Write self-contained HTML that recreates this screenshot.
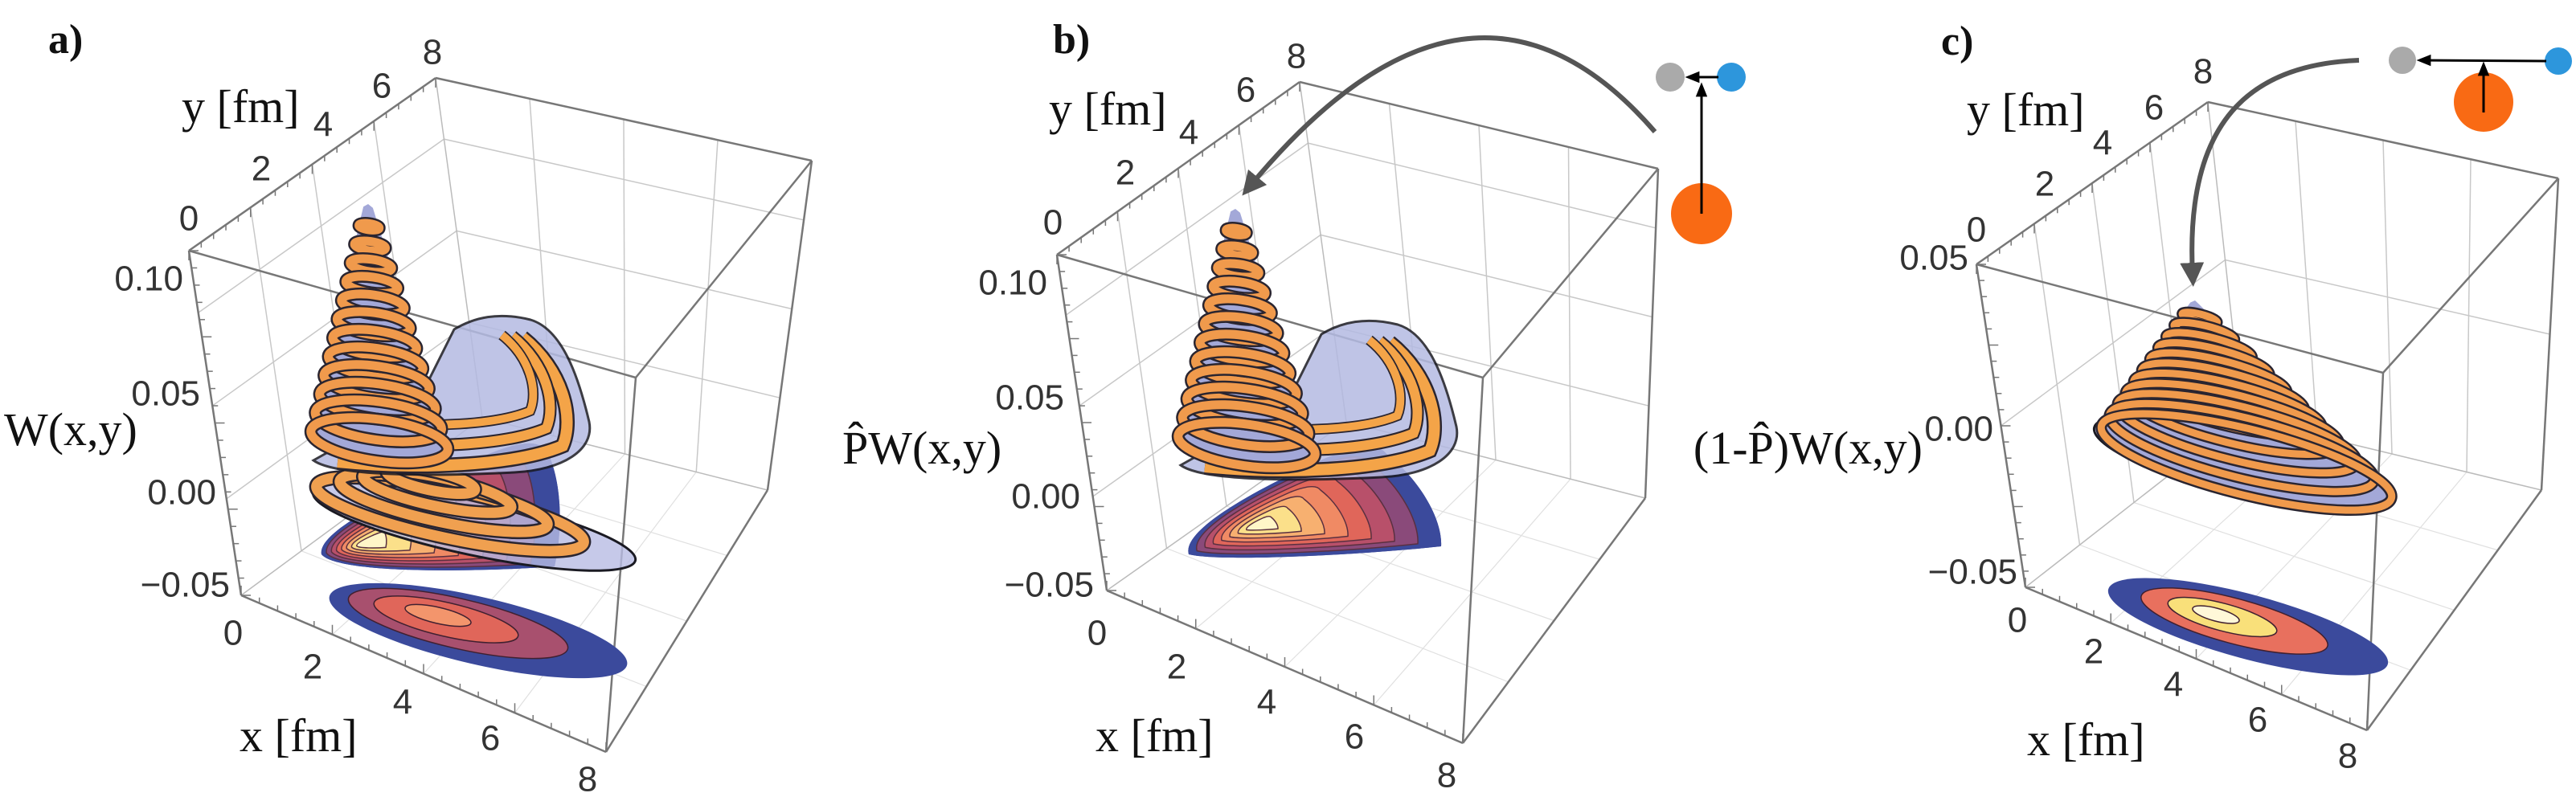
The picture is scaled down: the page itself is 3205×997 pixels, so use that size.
<!DOCTYPE html>
<html><head><meta charset="utf-8"><style>
html,body{margin:0;padding:0;background:#fff;}
svg{display:block;}
.tk{font-family:"Liberation Sans",sans-serif;font-size:44px;fill:#333;dominant-baseline:central;}
.lb{font-family:"Liberation Serif",serif;font-size:58px;fill:#111;}
.pl{font-family:"Liberation Serif",serif;font-size:52px;font-weight:bold;fill:#111;}
</style></head><body>
<svg id="s" width="3205" height="997" viewBox="0 0 3205 997" xmlns="http://www.w3.org/2000/svg">
<defs>
<marker id="ga" viewBox="0 0 10 10" refX="5" refY="5" markerWidth="5" markerHeight="5" orient="auto"><path d="M0,0 L10,5 L0,10 z" fill="#555"/></marker>
<marker id="ka" viewBox="0 0 10 10" refX="8" refY="5" markerWidth="6" markerHeight="6" orient="auto"><path d="M0,1 L10,5 L0,9 z" fill="#000"/></marker>
</defs>
<g id="boxes"></g>
<g id="surf"></g>
<g id="labels">
<text class="pl" x="60" y="66">a)</text>
<text class="pl" x="1310" y="66">b)</text>
<text class="pl" x="2415" y="68">c)</text>
<text class="tk" x="538" y="65" text-anchor="middle">8</text>
<text class="tk" x="475" y="107" text-anchor="middle">6</text>
<text class="tk" x="402" y="155" text-anchor="middle">4</text>
<text class="tk" x="325" y="210" text-anchor="middle">2</text>
<text class="tk" x="235" y="272" text-anchor="middle">0</text>
<text class="tk" x="228" y="347" text-anchor="end">0.10</text>
<text class="tk" x="249" y="490" text-anchor="end">0.05</text>
<text class="tk" x="269" y="613" text-anchor="end">0.00</text>
<text class="tk" x="286" y="728" text-anchor="end">−0.05</text>
<text class="tk" x="290" y="788" text-anchor="middle">0</text>
<text class="tk" x="389" y="830" text-anchor="middle">2</text>
<text class="tk" x="501" y="874" text-anchor="middle">4</text>
<text class="tk" x="610" y="919" text-anchor="middle">6</text>
<text class="tk" x="731" y="970" text-anchor="middle">8</text>
<text class="lb" x="226" y="152">y [fm]</text>
<text class="lb" x="298" y="935">x [fm]</text>
<text class="lb" x="5" y="554">W(x,y)</text>
<g transform="translate(1075,5)">
<text class="tk" x="538" y="65" text-anchor="middle">8</text>
<text class="tk" x="475" y="107" text-anchor="middle">6</text>
<text class="tk" x="404" y="160" text-anchor="middle">4</text>
<text class="tk" x="325" y="210" text-anchor="middle">2</text>
<text class="tk" x="235" y="272" text-anchor="middle">0</text>
<text class="tk" x="228" y="347" text-anchor="end">0.10</text>
<text class="tk" x="249" y="490" text-anchor="end">0.05</text>
<text class="tk" x="269" y="613" text-anchor="end">0.00</text>
<text class="tk" x="286" y="723" text-anchor="end">−0.05</text>
<text class="tk" x="290" y="783" text-anchor="middle">0</text>
<text class="tk" x="389" y="825" text-anchor="middle">2</text>
<text class="tk" x="501" y="869" text-anchor="middle">4</text>
<text class="tk" x="610" y="912" text-anchor="middle">6</text>
<text class="tk" x="725" y="960" text-anchor="middle">8</text>
<text class="lb" x="230" y="150">y [fm]</text>
<text class="lb" x="288" y="930">x [fm]</text>
</g>
<text class="lb" x="1048" y="577">P̂W(x,y)</text>
<text class="tk" x="2741" y="89" text-anchor="middle">8</text>
<text class="tk" x="2680" y="134" text-anchor="middle">6</text>
<text class="tk" x="2616" y="178" text-anchor="middle">4</text>
<text class="tk" x="2544" y="229" text-anchor="middle">2</text>
<text class="tk" x="2459" y="286" text-anchor="middle">0</text>
<text class="tk" x="2449" y="321" text-anchor="end">0.05</text>
<text class="tk" x="2480" y="534" text-anchor="end">0.00</text>
<text class="tk" x="2510" y="712" text-anchor="end">−0.05</text>
<text class="tk" x="2510" y="772" text-anchor="middle">0</text>
<text class="tk" x="2605" y="811" text-anchor="middle">2</text>
<text class="tk" x="2704" y="852" text-anchor="middle">4</text>
<text class="tk" x="2809" y="896" text-anchor="middle">6</text>
<text class="tk" x="2921" y="941" text-anchor="middle">8</text>
<text class="lb" x="2447" y="156">y [fm]</text>
<text class="lb" x="2522" y="940">x [fm]</text>
<text class="lb" x="2392" y="577" text-anchor="end">(1-P̂)W(x,y)</text>
</g>
<g id="diag">
<path d="M2059,164 Q1830,-100 1555,232" fill="none" stroke="#555" stroke-width="6" marker-end="url(#ga)"/>
<circle cx="2078" cy="96" r="18" fill="#aaa"/>
<circle cx="2154" cy="96" r="18" fill="#2d96dc"/>
<circle cx="2117" cy="266" r="38" fill="#f96a14"/>
<line x1="2117" y1="266" x2="2117" y2="106" stroke="#000" stroke-width="3" marker-end="url(#ka)"/>
<line x1="2138" y1="96" x2="2100" y2="96" stroke="#000" stroke-width="3" marker-end="url(#ka)"/>
<path d="M2935,75 C2800,80 2718,150 2728,342" fill="none" stroke="#555" stroke-width="6" marker-end="url(#ga)"/>
<circle cx="2989" cy="75" r="17" fill="#aaa"/>
<circle cx="3183" cy="76" r="17" fill="#2d96dc"/>
<circle cx="3090" cy="127" r="37" fill="#f96a14"/>
<line x1="3168" y1="76" x2="3010" y2="75" stroke="#000" stroke-width="3" marker-end="url(#ka)"/>
<line x1="3090" y1="140" x2="3090" y2="80" stroke="#000" stroke-width="3" marker-end="url(#ka)"/>
</g>
</svg>
<script>
const NS="http://www.w3.org/2000/svg";
function el(p,t,a){const e=document.createElementNS(NS,t);for(const k in a)e.setAttribute(k,a[k]);p.appendChild(e);return e;}
const boxes=document.getElementById('boxes'),surf=document.getElementById('surf');
function L(p,a,b,c,w){el(p,'line',{x1:a[0],y1:a[1],x2:b[0],y2:b[1],stroke:c,'stroke-width':w});}
function lerp(a,b,t){return [a[0]+(b[0]-a[0])*t,a[1]+(b[1]-a[1])*t];}
function box(P,zl){const g=el(boxes,'g',{});
 const {A,B,C,D,E,F,G,H}=P;
 for(let i=1;i<4;i++){const t=i/4;L(g,lerp(B,A,t),lerp(E,H,t),'#c8c8c8',1.5);L(g,lerp(A,C,t),lerp(H,G,t),'#c8c8c8',1.5);
  L(g,lerp(E,H,t),lerp(F,G,t),'#e0e0e0',1.2);L(g,lerp(H,G,t),lerp(E,F,t),'#e0e0e0',1.2);}
 zl.forEach(t=>{L(g,lerp(B,E,t),lerp(A,H,t),'#c8c8c8',1.5);L(g,lerp(A,H,t),lerp(C,G,t),'#c8c8c8',1.5);});
 L(g,A,H,'#bbb',1.5);L(g,H,E,'#bbb',1.5);L(g,H,G,'#bbb',1.5);
 [[A,B],[A,C],[B,D],[C,D],[B,E],[D,F],[C,G],[E,F],[F,G]].forEach(s=>L(g,s[0],s[1],'#777',2.5));
 for(let i=0;i<=20;i++){const t=i/20,l=(i%5==0)?12:7;
  let p=lerp(B,A,t);L(g,p,[p[0],p[1]+l],'#777',1.5);
  p=lerp(E,F,t);L(g,p,[p[0],p[1]-l],'#777',1.5);
  p=lerp(B,E,t);L(g,p,[p[0]+l,p[1]],'#777',1.5);}
}
box({A:[542,97],B:[235,312],C:[1010,200],D:[791,470],E:[300,741],F:[754,936],G:[955,610],H:[600,520]},[0.18,0.45,0.72]);
box({A:[1617,102],B:[1315,317],C:[2063,210],D:[1845,470],E:[1377,735],F:[1820,925],G:[2047,620],H:[1675,525]},[0.18,0.45,0.72]);
box({A:[2747,127],B:[2459,329],C:[3183,222],D:[2965,464],E:[2520,731],F:[2945,909],G:[3162,610],H:[2790,520]},[0.5]);

function ell(p,cx,cy,rx,ry,rot,fill,op,stroke,sw){return el(p,'ellipse',{cx,cy,rx,ry,transform:`rotate(${rot} ${cx} ${cy})`,fill,'fill-opacity':op||1,stroke:stroke||'none','stroke-width':sw||0});}
function bands(p,d,cx,cy,cols){cols.forEach((c,i)=>{const s=1-i/cols.length;el(p,'path',{d,fill:c,stroke:i?'#5a3040':'none','stroke-width':i?1.5/s:0,transform:`translate(${cx} ${cy}) scale(${s}) translate(${-cx} ${-cy})`});});}
function rings(p,px,py,bx,by,R,n,rot,yr,sw){
 sw=sw||20;const a=rot*Math.PI/180,c=Math.cos(a),s=Math.sin(a);
 const Ls=[],Rs=[],arr=[];
 for(let k=0;k<=n;k++){const t=k/n;const cx=px+t*(bx-px),cy=py+t*(by-py),rx=6+t*R,ry=rx*yr;arr.push([cx,cy,rx,ry]);
  Ls.push([cx-rx*c,cy-rx*s]);Rs.push([cx+rx*c,cy+rx*s]);}
 const last=arr[n];
 let d='M'+px+','+(py-4)+' '+Ls.map(q=>'L'+q[0].toFixed(1)+','+q[1].toFixed(1)).join(' ');
 d+=` A${last[2]},${last[3]} ${rot} 0 0 ${Rs[n][0].toFixed(1)},${Rs[n][1].toFixed(1)} `;
 d+=Rs.slice().reverse().map(q=>'L'+q[0].toFixed(1)+','+q[1].toFixed(1)).join(' ')+' Z';
 el(p,'path',{d,fill:'#a3a8d8'});
 for(let k=1;k<=n;k++){const [cx,cy,rx,ry]=arr[k];
  ell(p,cx,cy,rx,ry,rot,'none',1,'#2a2530',sw);ell(p,cx,cy,rx,ry,rot,'none',1,'#f09a4c',sw-5);}
}
function panelAB(dx,dy,lower){
 const g=el(surf,'g',{transform:`translate(${dx} ${dy})`});
 if(lower){ell(g,595,785,190,42,13,'#3b4a9c');ell(g,570,776,140,31,13,'#a8506e',1,'#402030',1.5);ell(g,555,771,92,21,13,'#e0665a',1,'#402030',1.5);ell(g,545,766,42,10,13,'#f3956c',1,'#402030',1.5);}
 const d=lower?'M400,690 C395,665 470,625 560,585 C620,560 660,540 680,560 C700,600 700,660 690,705 C600,712 420,715 400,690 Z'
             :'M400,684 C391,654 481,604 571,564 C621,544 639,549 646,559 C691,594 716,644 714,674 C621,684 441,694 400,684 Z';
 el(g,'path',{d,fill:'#3b4a9c'});
 bands(g,d,lower?450:482,lower?678:649,['#3b4a9c','#8a4a7a','#b8506a','#e0665a','#f08a64','#f7b070','#fbe08a','#fff6c8']);
 if(lower){
  ell(g,590,655,205,36,12,'#b8bce4',0.8,'#1a1a22',3);
  for(let k=0;k<4;k++){ell(g,560-k*8,640-k*14,170-k*38,30-k*6,12,'none',1,'#2a2530',18);ell(g,560-k*8,640-k*14,170-k*38,30-k*6,12,'none',1,'#f0a050',13);}
 }
 el(g,'path',{d:'M390,573 C420,595 560,592 640,588 C700,585 740,560 733,525 C720,470 700,410 660,398 C620,388 590,395 565,410 L520,500 Z',fill:'#b4bae2',opacity:0.85,stroke:'#1a1a22','stroke-width':3});
 for(let k=0;k<3;k++){const s=1-k*0.15;const dd='M420,575 C520,585 640,580 700,555 C715,520 700,460 650,420';
  el(g,'path',{d:dd,fill:'none',stroke:'#2a2530','stroke-width':19,transform:`translate(565 410) scale(${s}) translate(-565 -410)`});
  el(g,'path',{d:dd,fill:'none',stroke:'#f4a448','stroke-width':14,transform:`translate(565 410) scale(${s}) translate(-565 -410)`});}
 rings(g,458,258,472,548,80,12,8,0.3,16);
}
panelAB(0,0,true);
panelAB(1079,6,false);
const g=el(surf,'g',{});
ell(g,2797,780,180,40,15,'#3b4a9c');ell(g,2780,773,120,28,15,'#e8705e',1,'#402030',1.5);ell(g,2765,768,70,17,15,'#f9e07a',1,'#402030',1.5);ell(g,2757,765,30,8,15,'#fff8d8',1,'#402030',1.5);
ell(g,2790,578,190,40,14,'#b4bae2',1,'#1a1a22',3);
rings(g,2731,378,2795,575,180,11,14,0.22,14);
</script>
</body></html>
